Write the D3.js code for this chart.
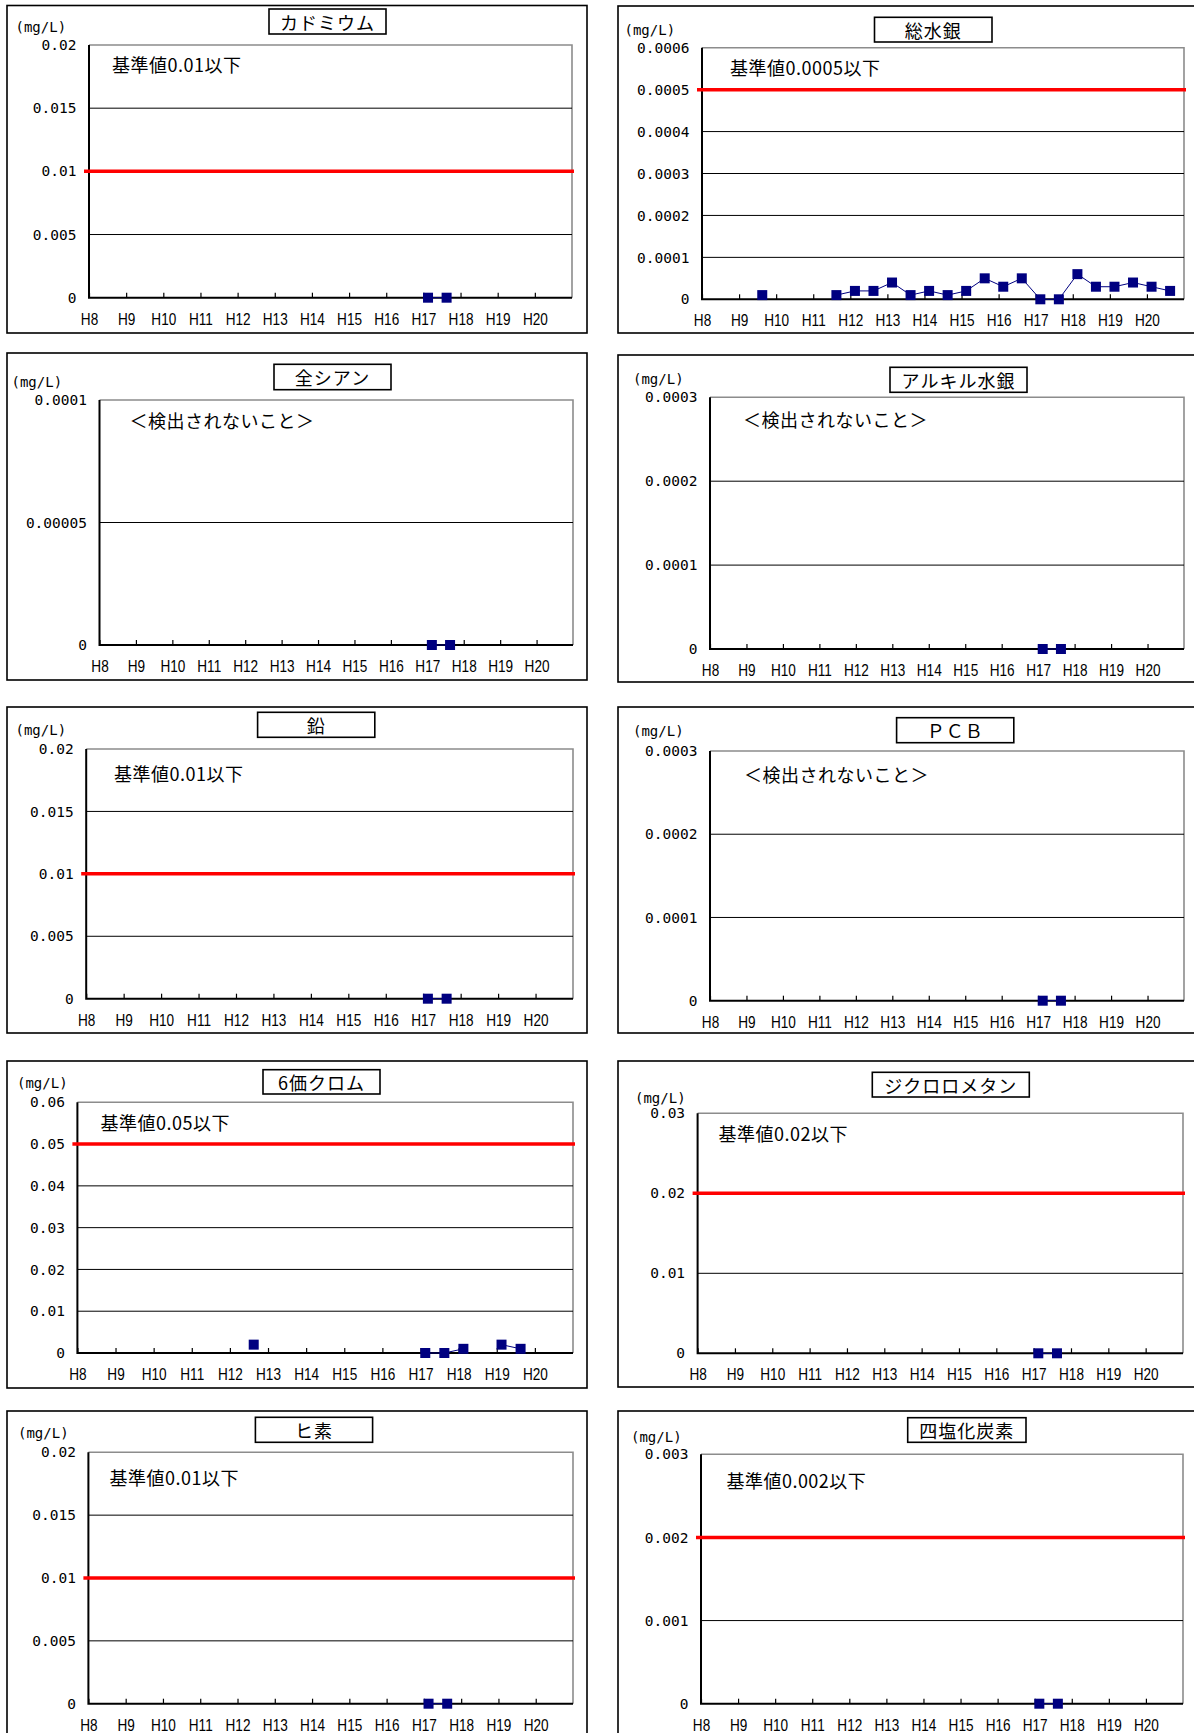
<!DOCTYPE html>
<html lang="ja">
<head>
<meta charset="utf-8">
<script src="https://cdn.jsdelivr.net/npm/d3@7/dist/d3.min.js"></script>
<style>
  html, body { margin: 0; padding: 0; background: #fff; }
  svg { display: block; }
  .unit, .ytick text { font-family: "DejaVu Sans Mono", "Liberation Mono", monospace; }
  .xtick text { font-family: "Liberation Sans", "Arial", sans-serif; }
  .title, .note { font-family: "Noto Sans CJK JP", "Noto Sans", sans-serif; }
</style>
</head>
<body>
<svg id="chart" width="1194" height="1733"></svg>
<script>
// Fiscal years on the category axis, four quarters each; surveys run in Q1 and Q3.
const years = ["H8", "H9", "H10", "H11", "H12", "H13", "H14", "H15", "H16", "H17", "H18", "H19", "H20"];
const quarters = ["Q1", "Q2", "Q3", "Q4"];
const surveyQuarters = ["Q1", "Q3"];

// Panel headings, standard values and notes, in reading order.
const titles = ["カドミウム", "総水銀", "全シアン", "アルキル水銀", "鉛", "ＰＣＢ", "6価クロム", "ジクロロメタン", "ヒ素", "四塩化炭素"];
const standards = [0.01, 0.0005, null, null, 0.01, null, 0.05, 0.02, 0.01, 0.002];
const notes = ["基準値0.01以下", "基準値0.0005以下", "＜検出されないこと＞", "＜検出されないこと＞", "基準値0.01以下",
               "＜検出されないこと＞", "基準値0.05以下", "基準値0.02以下", "基準値0.01以下", "基準値0.002以下"];
const unitLabel = "(mg/L)";

// Y tick labels per panel (mg/L)
const cadmiumTicks  = ["0", "0.005", "0.01", "0.015", "0.02"];
const mercuryTicks  = ["0", "0.0001", "0.0002", "0.0003", "0.0004", "0.0005", "0.0006"];
const cyanideTicks  = ["0", "0.00005", "0.0001"];
const alkylHgTicks  = ["0", "0.0001", "0.0002", "0.0003"];
const leadTicks     = ["0", "0.005", "0.01", "0.015", "0.02"];
const pcbTicks      = ["0", "0.0001", "0.0002", "0.0003"];
const chromiumTicks = ["0", "0.01", "0.02", "0.03", "0.04", "0.05", "0.06"];
const dcmTicks      = ["0", "0.01", "0.02", "0.03"];
const arsenicTicks  = ["0", "0.005", "0.01", "0.015", "0.02"];
const cclTicks      = ["0", "0.001", "0.002", "0.003"];

// Measured values, two surveys per year (Q1, Q3) from H8 to H20; null = not measured
const cadmiumValues = [null,null, null,null, null,null, null,null, null,null, null,null, null,null, null,null, null,null, 0,0, null,null, null,null, null,null];
const mercuryValues = [null,null, null,0.00001, null,null, null,0.00001, 0.00002,0.00002, 0.00004,0.00001, 0.00002,0.00001,
                       0.00002,0.00005, 0.00003,0.00005, 0,0, 0.00006,0.00003, 0.00003,0.00004, 0.00003,0.00002];
const cyanideValues = [null,null, null,null, null,null, null,null, null,null, null,null, null,null, null,null, null,null, 0,0, null,null, null,null, null,null];
const alkylHgValues = [null,null, null,null, null,null, null,null, null,null, null,null, null,null, null,null, null,null, 0,0, null,null, null,null, null,null];
const leadValues    = [null,null, null,null, null,null, null,null, null,null, null,null, null,null, null,null, null,null, 0,0, null,null, null,null, null,null];
const pcbValues     = [null,null, null,null, null,null, null,null, null,null, null,null, null,null, null,null, null,null, 0,0, null,null, null,null, null,null];
const chromiumValues = [null,null, null,null, null,null, null,null, null,0.002, null,null, null,null, null,null, null,null, 0,0, 0.001,null, 0.002,0.001, null,null];
const dcmValues     = [null,null, null,null, null,null, null,null, null,null, null,null, null,null, null,null, null,null, 0,0, null,null, null,null, null,null];
const arsenicValues = [null,null, null,null, null,null, null,null, null,null, null,null, null,null, null,null, null,null, 0,0, null,null, null,null, null,null];
const cclValues     = [null,null, null,null, null,null, null,null, null,null, null,null, null,null, null,null, null,null, 0,0, null,null, null,null, null,null];

const tickSets = [cadmiumTicks, mercuryTicks, cyanideTicks, alkylHgTicks, leadTicks, pcbTicks, chromiumTicks, dcmTicks, arsenicTicks, cclTicks];
const valueSets = [cadmiumValues, mercuryValues, cyanideValues, alkylHgValues, leadValues, pcbValues, chromiumValues, dcmValues, arsenicValues, cclValues];

// Page layout of each panel: outer frame, plot area, heading box, note and unit positions
const layout = [
  { frame: [7, 5.5, 587, 333],    plot: [89, 45, 572, 297.7],      head: [269, 9, 386, 34],          note: [112, 64],     unit: [15.5, 26.7] },
  { frame: [618, 6, 1204, 333],   plot: [702, 47.7, 1184, 299.3],  head: [874.5, 17.3, 992, 42],     note: [730, 66.7],   unit: [624.5, 30] },
  { frame: [7, 353, 587, 680],    plot: [99.5, 400, 573, 645],     head: [274, 364.3, 391, 389.7],   note: [129.5, 420],  unit: [11.5, 382.3] },
  { frame: [618, 355, 1204, 682], plot: [710, 397.3, 1184, 649],   head: [890, 367.3, 1027, 392.3],  note: [743, 419],    unit: [633, 379.3] },
  { frame: [7, 707, 587, 1033],   plot: [86.2, 749, 573, 998.7],   head: [257.6, 712.3, 374.8, 737.3], note: [114, 772.7], unit: [15.5, 730] },
  { frame: [618, 707, 1204, 1033], plot: [710, 751, 1184, 1000.7], head: [896.6, 717.7, 1013.8, 742.7], note: [744, 774], unit: [633, 731] },
  { frame: [7, 1061, 587, 1388],  plot: [77.4, 1102.3, 573, 1353], head: [263, 1069.7, 380, 1094],   note: [100.6, 1121.7], unit: [17, 1083.3] },
  { frame: [618, 1061, 1204, 1387], plot: [697.6, 1113.3, 1183, 1353.3], head: [872.3, 1072.3, 1029.3, 1097], note: [718.6, 1133.3], unit: [635, 1097.7] },
  { frame: [7, 1411, 587, 1760],  plot: [88.4, 1452.3, 573, 1703.7], head: [255.4, 1417.3, 372.6, 1442.3], note: [109.5, 1476.7], unit: [18, 1433.3] },
  { frame: [618, 1411, 1204, 1760], plot: [701, 1454.3, 1183, 1703.7], head: [907.7, 1417.7, 1026, 1442.3], note: [726.4, 1480], unit: [631, 1436.7] }
];

const svg = d3.select("#chart");
const quarterKeys = years.flatMap(y => quarters.map(q => y + q));
const surveyKeys = years.flatMap(y => surveyQuarters.map(q => y + q));

titles.forEach((title, i) => {
  const L = layout[i];
  const [pl, pt, pr, pb] = L.plot;
  const tickLabels = tickSets[i];
  const tickVals = tickLabels.map(Number);
  const g = svg.append("g");

  // outer frame
  g.append("rect")
    .attr("x", L.frame[0]).attr("y", L.frame[1])
    .attr("width", L.frame[2] - L.frame[0]).attr("height", L.frame[3] - L.frame[1])
    .attr("fill", "#fff").attr("stroke", "#000").attr("stroke-width", 1.6);

  const x = d3.scaleBand().domain(quarterKeys).range([pl, pr]).paddingInner(0).paddingOuter(0);
  const xYear = d3.scaleLinear().domain([0, years.length]).range([pl, pr]);
  const y = d3.scaleLinear().domain([0, d3.max(tickVals)]).range([pb, pt]);

  // plot area border (top/right in grey)
  g.append("path")
    .attr("d", `M${pl},${pt}H${pr}V${pb}`)
    .attr("fill", "none").attr("stroke", "#8c8c8c").attr("stroke-width", 1.6);

  // horizontal gridlines
  g.append("g").selectAll("line")
    .data(tickVals.filter(v => v > 0 && v < d3.max(tickVals) && v !== standards[i]))
    .join("line")
    .attr("x1", pl).attr("x2", pr)
    .attr("y1", d => y(d)).attr("y2", d => y(d))
    .attr("stroke", "#000").attr("stroke-width", 1);

  // y axis labels
  const yAxis = g.append("g").attr("class", "ytick")
    .attr("transform", `translate(${pl},0)`)
    .call(d3.axisLeft(y).tickValues(tickVals).tickFormat((d, k) => tickLabels[k]).tickSize(0).tickPadding(12.5));
  yAxis.select(".domain").remove();
  yAxis.selectAll("text").attr("font-size", 14.5).attr("fill", "#000");

  // x axis: year labels at the year boundaries, short inward ticks
  const xAxis = g.append("g").attr("class", "xtick")
    .attr("transform", `translate(0,${pb})`)
    .call(d3.axisBottom(xYear).tickValues(d3.range(years.length)).tickFormat(k => years[k])
      .tickSizeInner(-5).tickSizeOuter(0).tickPadding(15));
  xAxis.select(".domain").remove();
  xAxis.selectAll("line").attr("stroke", "#000").attr("stroke-width", 1.2);
  // condensed year labels
  xAxis.selectAll("text").attr("font-size", 17).attr("fill", "#000")
    .attr("transform", "scale(0.8,1)");

  // axis lines
  g.append("path")
    .attr("d", `M${pl},${pt}V${pb}H${pr}`)
    .attr("fill", "none").attr("stroke", "#000").attr("stroke-width", 2);

  // standard value line
  if (standards[i] != null) {
    g.append("line")
      .attr("x1", pl - 5).attr("x2", pr + 2)
      .attr("y1", y(standards[i])).attr("y2", y(standards[i]))
      .attr("stroke", "#ff0000").attr("stroke-width", 3.5);
  }

  // measured series
  const pts = valueSets[i].map((v, k) => ({ key: surveyKeys[k], v }));
  const line = d3.line()
    .defined(d => d.v != null)
    .x(d => x(d.key) + x.bandwidth() / 2)
    .y(d => y(d.v));
  g.append("path").datum(pts)
    .attr("d", line)
    .attr("fill", "none").attr("stroke", "#000080").attr("stroke-width", 1);
  const ms = 10;
  g.append("g").selectAll("rect")
    .data(pts.filter(d => d.v != null))
    .join("rect")
    .attr("x", d => x(d.key) + x.bandwidth() / 2 - ms / 2)
    .attr("y", d => y(d.v) - ms / 2)
    .attr("width", ms).attr("height", ms)
    .attr("fill", "#000080");

  // heading box
  g.append("rect")
    .attr("x", L.head[0]).attr("y", L.head[1])
    .attr("width", L.head[2] - L.head[0]).attr("height", L.head[3] - L.head[1])
    .attr("fill", "#fff").attr("stroke", "#000").attr("stroke-width", 1.6);
  g.append("text").attr("class", "title")
    .attr("x", (L.head[0] + L.head[2]) / 2).attr("y", (L.head[1] + L.head[3]) / 2)
    .attr("text-anchor", "middle").attr("dominant-baseline", "central")
    .attr("font-size", 18).attr("letter-spacing", 1)
    .text(title);

  // note inside the plot
  g.append("text").attr("class", "note")
    .attr("x", L.note[0]).attr("y", L.note[1])
    .attr("dominant-baseline", "central")
    .attr("font-size", 18).attr("letter-spacing", 0.5)
    .text(notes[i]);

  // unit label
  g.append("text").attr("class", "unit")
    .attr("x", L.unit[0]).attr("y", L.unit[1])
    .attr("dominant-baseline", "central")
    .attr("font-size", 14)
    .text(unitLabel);
});
</script>
</body>
</html>
